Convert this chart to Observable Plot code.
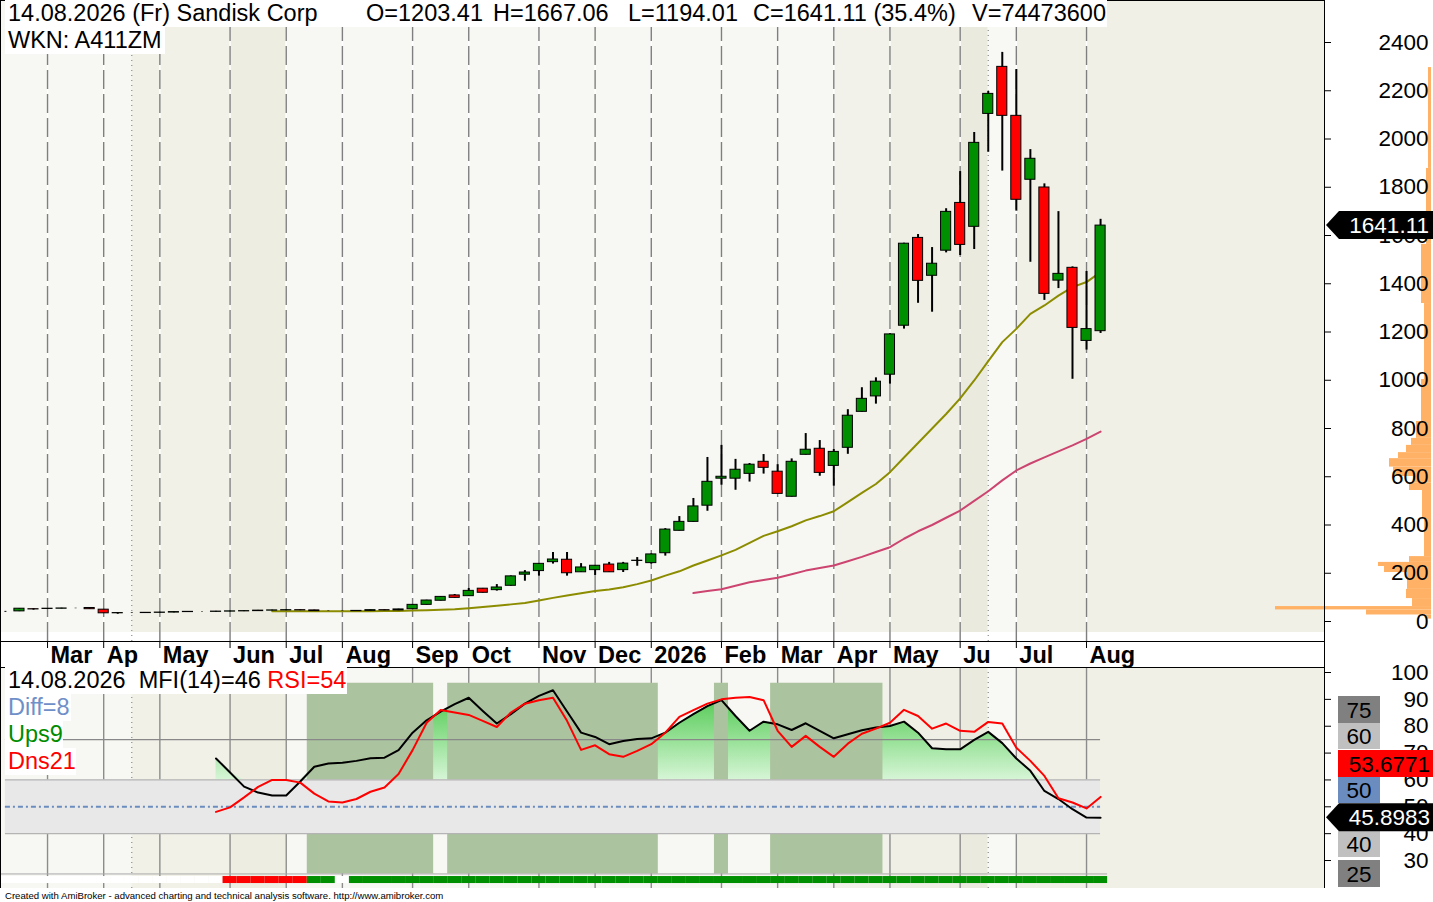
<!DOCTYPE html>
<html><head><meta charset="utf-8"><title>Sandisk Corp</title>
<script src="https://cdn.jsdelivr.net/npm/d3@7"></script>
<script src="https://cdn.jsdelivr.net/npm/@observablehq/plot@0.6"></script>
<style>
html,body{margin:0;padding:0;background:#fff;}
#wrap{position:relative;width:1433px;height:902px;overflow:hidden;font-family:"Liberation Sans",Arial,sans-serif;color:#000;}
#wrap svg{position:absolute;left:0;}
.box{position:absolute;background:#fff;font-size:23.5px;line-height:27px;height:27px;white-space:pre;}
.box span.p{position:absolute;top:0;}
.foot{position:absolute;left:5px;top:890px;font-size:9.6px;line-height:11px;white-space:pre;}
</style></head><body><div id="wrap"></div>
<script>
// ---------- DATA (weekly bars, 14.02.2025 ... 14.08.2026) ----------
const opens  = [40,42,51,52,53,54,56,49,34,35,35,36,37,39,40,40,41,42,43,45,46,47,46,43,43,43,44,47,46,
  51,69,86,108,105,136,130,148,194,209,246,256,204,213,236,213,251,242,283,376,413,480,592,592,612,662,621,517,691,716,645,720,869,933,1023,1226,1590,1433,1537,1735,1636,2104,2299,2096,1831,1799,1413,1466,1163,1203.41];
const highs  = [42,54,54,54,55,55,57,50,37,36,37,38,40,41,41,42,43,44,46,47,48,48,47,44,44,45,48,48,51,
  70,88,103,112,137,137,153,189,211,240,286,286,240,232,245,245,265,280,385,435,510,680,730,672,655,692,650,674,779,750,713,878,969,1010,1193,1568,1604,1550,1711,1865,2027,2197,2359,2288,1956,1814,1699,1470,1451,1667.06];
const lows   = [38,41,47,51,52,53,50,33,30,33,34,35,36,38,39,39,40,41,42,44,45,45,43,42,42,42,43,45,45,
  50,68,85,97,104,118,126,147,167,188,238,188,203,191,203,203,229,238,271,375,412,457,565,544,578,611,528,516,690,602,561,693,868,901,984,1212,1319,1282,1528,1517,1542,1945,1867,1701,1489,1331,1380,1004,1125,1194.01];
const closes = [40,53,50,53,54,54,51,34,35,35,36,37,39,40,40,41,42,43,45,46,47,46,43,43,43,44,47,46,50,
  69,87,102,98,127,119,141,187,203,239,257,200,224,231,204,240,252,278,381,413,477,579,600,629,650,637,529,662,712,616,703,853,923,994,1190,1566,1412,1483,1698,1561,1984,2187,2096,1748,1918,1358,1441,1217,1212,1641.11];
// moving averages (null = not yet defined)
const maFast = [null,null,null,null,null,null,null,null,null,null,null,null,null,null,null,null,null,null,null,
  43,43,43,43,43,43,43,43,43.5,44,45.6,47,49,51,55,60,65,71,77,87,98,108,117,126,133,142,155,170,190,208,232,253,274,297,326,355,374,395,419,437,457,495,533,570,619,680,740,800,860,925,999,1079,1158,1213,1275,1310,1351,1386,1407,1448];
const maSlow = [null,null,null,null,null,null,null,null,null,null,null,null,null,null,null,null,null,null,null,null,null,null,null,null,null,null,null,null,null,null,null,null,null,null,null,null,null,null,null,null,null,null,null,null,null,null,null,null,null,
  118,126,134,148,163,172,181,196,211,222,232,250,268,288,308,343,374,400,430,460,500,540,585,626,655,680,705,730,757,787];
// indicator pane
const mfi = [null,null,null,null,null,null,null,null,null,null,null,null,null,null,null,
  68.0,62.8,57.5,55.3,54.2,54.2,59.4,64.9,66.1,66.4,67.1,68.1,68.3,71.1,77.6,82.2,85.4,88.2,90.6,85.7,81.0,84.5,88.4,91.3,93.4,85.5,77.6,76.0,73.3,74.5,75.2,75.5,77.6,81.3,84.5,87.5,89.7,83.8,78.3,81.7,80.7,78.6,81.1,78.3,75.5,77.0,78.5,79.5,80.1,81.7,77.6,71.8,71.4,71.4,74.9,77.9,73.7,68.0,63.4,55.9,52.9,49.1,46.0,45.8983];
const rsi = [null,null,null,null,null,null,null,null,null,null,null,null,null,null,null,
  48.1,49.8,53.5,57.4,60.0,60.0,59.0,54.9,52.0,51.6,52.9,55.6,57.2,62.2,71.1,81.3,86.0,85.1,84.2,82.0,79.7,85.1,88.4,89.7,90.6,82.0,71.2,72.9,69.6,68.6,70.8,73.3,77.6,83.5,86.0,88.4,90.0,90.6,90.9,89.7,78.3,72.3,76.4,72.3,68.6,73.5,77.2,79.1,81.3,86.1,83.8,79.1,81.0,78.3,77.9,81.6,81.0,72.0,67.1,61.5,53.2,51.6,49.4,53.6771];
const upsRuns = [[22,30],[32,46],[51,51],[55,62]];          // shaded "Ups" stretches (bar index)
const trendSignal = "0000000000000000------++0++++++++++++++++++++++++++++++++++++++++++++++++++++++"; // per bar: 0 none, - down, + up
// volume-at-price profile: price bin low, high, relative volume
const vapLow  = [10,27,48,62,95,133,203,228,245,269,427,543,575,601,640,675,700,730,759,829,1003,1318,1563,1878];
const vapHigh = [27,48,62,95,133,203,228,245,269,427,543,575,601,640,675,700,730,759,829,1003,1318,1563,1878,2296];
const vapVol  = [5,65,156,19,25,24,47,53,22,7,9,22,18,38,42,33,25,20,15,10,7,10,5,3];
// axes
const monthLabels = ["Mar","Ap","May","Jun","Jul","Aug","Sep","Oct","Nov","Dec","2026","Feb","Mar","Apr","May","Ju","Jul","Aug"];
const monthBar    = [3,7,11,16,20,24,29,33,38,42,46,51,55,59,63,68,72,77];
const markerBar   = [9,70];
const shadeFrom   = [-1,9,16,20,59,63,68,70,72];
const shadeTo     = [9,16,20,59,63,68,70,72,200];
const priceTicks  = [0,200,400,600,800,1000,1200,1400,1600,1800,2000,2200,2400];
const indTicks    = [30,40,50,60,70,80,90,100];
const levelTags   = ["75","60","50","40","25"];
const lastClose = 1641.11, lastMfi = 45.8983, lastRsi = 53.6771;

// ---------- STYLE / LAYOUT ----------
const FONT = '"Liberation Sans", Arial, sans-serif';
const W = 1433, PW = 1325;
const xMin = -0.35, xMax = 94.02;
const pxPerBar = PW / (xMax - xMin);
const priceAt = px => (621 - px) / 0.24125;           // price pane pixel -> price
const indAt = px => 100 - (px - 672) / 2.686;          // indicator pixel -> value
const GREEN = "#008f00", RED = "#ff0000";
const shadeColors = ["#f7f7f3","#f2f1e8","#edede1","#f7f7f3","#f3f2ea","#f0efe5","#ebeadf","#f8f8f5","#f1f0e6"];
const shades = shadeFrom.map((a,k) => ({a: Math.max(a, xMin), b: Math.min(shadeTo[k], xMax), color: shadeColors[k]}));

const rows = opens.map((o,i) => ({i, o, h: highs[i], l: lows[i], c: closes[i], maF: maFast[i], maS: maSlow[i], mfi: mfi[i], rsi: rsi[i], sig: trendSignal[i]}));
const lastBar = rows.length - 1;
const months = monthLabels.map((label,k) => ({label, bar: monthBar[k]}));
const vap = vapVol.map((v,k) => ({lo: vapLow[k], hi: vapHigh[k], v}));
const vapRight = (1431 / pxPerBar) + xMin;

// ---------- PRICE PANE ----------
const price = Plot.plot({
  width: W, height: 667, marginLeft: 0, marginRight: W - PW, marginTop: 0, marginBottom: 26,
  x: {type: "linear", domain: [xMin, xMax], axis: null},
  y: {domain: [priceAt(641), priceAt(0)], axis: null},
  color: {type: "identity"},
  style: {background: "transparent", fontFamily: FONT, overflow: "visible"},
  marks: [
    Plot.rect(shades, {x1: "a", x2: "b", y1: priceAt(632), y2: priceAt(0), fill: "color"}),
    Plot.rect([0], {x1: xMin, x2: lastBar + 0.5, y1: priceAt(641), y2: priceAt(632), fill: "#ffffff"}),
    Plot.ruleX(monthBar, {x: d => d, y1: priceAt(641), y2: priceAt(0), stroke: "#ffffff", strokeWidth: 1.4}),
    Plot.ruleX(monthBar, {x: d => d, y1: priceAt(641), y2: priceAt(0), stroke: "#7f7f7f", strokeWidth: 1.4, strokeDasharray: "19,5"}),
    Plot.ruleX(markerBar, {x: d => d, y1: priceAt(641), y2: priceAt(0), stroke: "#8a8a8a", strokeWidth: 1.2, strokeDasharray: "1,4"}),
    Plot.ruleX(monthBar, {x: d => d, y1: priceAt(641), y2: priceAt(648), stroke: "#000"}),
    Plot.rect(vap, {x1: vapRight, x2: d => vapRight - d.v / pxPerBar, y1: "lo", y2: "hi", fill: "#ffb266"}),
    Plot.line(rows, {x: "i", y: "maS", stroke: "#cc4470", strokeWidth: 2}),
    Plot.line(rows, {x: "i", y: "maF", stroke: "#8c8c00", strokeWidth: 2}),
    Plot.ruleX(rows, {x: "i", y1: "l", y2: "h", stroke: "#000", strokeWidth: 2}),
    Plot.rect(rows, {x1: d => d.i - 0.36, x2: d => d.i + 0.36, y1: "o", y2: "c", fill: d => d.c >= d.o ? GREEN : RED, stroke: "#000", strokeWidth: 1}),
    Plot.text(months, {x: "bar", text: "label", frameAnchor: "bottom", lineAnchor: "middle", dy: 14, dx: 3, textAnchor: "start", fontWeight: "bold", fontSize: 23.5, fill: "#000"}),
    Plot.ruleY(priceTicks, {y: d => d, x1: xMax, x2: xMax + 6 / pxPerBar, stroke: "#000"}),
    Plot.text(priceTicks, {y: d => d, text: d => String(d), frameAnchor: "right", lineAnchor: "middle", dx: 103, textAnchor: "end", fontSize: 22.5, fill: "#000"})
  ]
});

// ---------- INDICATOR PANE ----------
const iy0 = indAt(888), iy1 = indAt(667);
const ind = Plot.plot({
  width: W, height: 221, marginLeft: 0, marginRight: W - PW, marginTop: 0, marginBottom: 0,
  x: {type: "linear", domain: [xMin, xMax], axis: null},
  y: {domain: [iy0, iy1], axis: null},
  color: {type: "identity"},
  style: {background: "transparent", fontFamily: FONT, overflow: "visible"},
  marks: [
    Plot.rect(shades, {x1: "a", x2: "b", y1: iy0, y2: iy1, fill: "color"}),
    Plot.ruleX(monthBar, {x: d => d, y1: iy0, y2: iy1, stroke: "#8c8c8c", strokeWidth: 1.4}),
    Plot.ruleX(markerBar, {x: d => d, y1: iy0, y2: iy1, stroke: "#8a8a8a", strokeWidth: 1.2, strokeDasharray: "1,4"}),
    Plot.areaY(rows.filter(d => d.mfi != null), {x: "i", y1: 60, y2: d => Math.max(d.mfi, 60), fill: "url(#mfiGrad)"}),
    Plot.rect(upsRuns, {x1: d => d[0] - 0.5, x2: d => d[1] + 0.5, y1: 25, y2: 96, fill: "#abc39e"}),
    Plot.rect([0], {x1: 0, x2: lastBar, y1: 40, y2: 60, fill: "#e8e8e8"}),
    Plot.ruleY([40, 60], {y: d => d, x1: 0, x2: lastBar, stroke: "#b4b4b4", strokeWidth: 1.2}),
    Plot.ruleY([75], {y: d => d, x1: 0, x2: lastBar, stroke: "#888", strokeWidth: 1.2}),
    Plot.ruleY([25], {y: d => d, x1: xMin, x2: lastBar + 0.5, stroke: "#a8a8a8", strokeWidth: 1}),
    Plot.ruleY([50], {y: d => d, x1: 0, x2: lastBar, stroke: "#6b8cbe", strokeWidth: 2, strokeDasharray: "5,3,2,3"}),
    Plot.rect(rows, {x1: d => d.i - 0.5, x2: d => d.i + 0.5, y1: 21.43, y2: 24.04, fill: d => d.sig === "+" ? GREEN : d.sig === "-" ? RED : "#ffffff"}),
    Plot.line(rows, {x: "i", y: "mfi", stroke: "#000", strokeWidth: 2}),
    Plot.line(rows, {x: "i", y: "rsi", stroke: RED, strokeWidth: 2}),
    Plot.ruleY(indTicks, {y: d => d, x1: xMax, x2: xMax + 6 / pxPerBar, stroke: "#000"}),
    Plot.text(indTicks, {y: d => d, text: d => String(d), frameAnchor: "right", lineAnchor: "middle", dx: 103, textAnchor: "end", fontSize: 22.5, fill: "#000"})
  ]
});
{
  const ys = ind.scale("y");
  const defs = `<defs><linearGradient id="mfiGrad" gradientUnits="userSpaceOnUse" x1="0" x2="0" y1="${ys.apply(92)}" y2="${ys.apply(60)}">
    <stop offset="0" stop-color="#4ec94e"/><stop offset="1" stop-color="#d6f5d6"/></linearGradient></defs>`;
  ind.insertAdjacentHTML("afterbegin", defs);
}

const wrap = document.getElementById("wrap");
price.style.top = "0px"; wrap.appendChild(price);
ind.style.top = "667px"; wrap.appendChild(ind);

// ---------- OVERLAY: frame lines, value tags ----------
const ov = d3.select(wrap).append("svg").attr("width", W).attr("height", 902)
  .style("position", "absolute").style("top", "0px").style("left", "0px").style("font-family", FONT);
[[0, 0.5, PW, 0.5], [0.5, 0, 0.5, 888], [PW - 0.5, 0, PW - 0.5, 888], [0, 641.5, PW, 641.5], [0, 667.5, PW, 667.5]]
  .forEach(([x1, y1, x2, y2]) => ov.append("line").attr("x1", x1).attr("y1", y1).attr("x2", x2).attr("y2", y2).attr("stroke", "#000").attr("stroke-width", 1));

function arrowTag(cy, txt, textRight) {
  ov.append("polygon").attr("points", [[1326, cy], [1339, cy - 14], [W, cy - 14], [W, cy + 14], [1339, cy + 14]].map(p => p.join(",")).join(" ")).attr("fill", "#000");
  ov.append("text").attr("x", textRight).attr("y", cy).attr("dy", "0.35em").attr("text-anchor", "end").attr("fill", "#fff").attr("font-size", 22.5).text(txt);
}
arrowTag(price.scale("y").apply(lastClose), lastClose.toFixed(2), 1429);

const tagBoxes = [
  {t: levelTags[0], y: 696, h: 27, w: 42, fill: "#808080"},
  {t: levelTags[1], y: 723, h: 26, w: 42, fill: "#c0c0c0"},
  {t: String(lastRsi), y: 750, h: 27, w: 95, fill: "#ff0000", right: true},
  {t: levelTags[2], y: 777, h: 26, w: 42, fill: "#6b8cbe"},
  {t: levelTags[3], y: 831, h: 26, w: 42, fill: "#c0c0c0"},
  {t: levelTags[4], y: 860, h: 27, w: 42, fill: "#808080"}
];
tagBoxes.forEach(b => {
  ov.append("rect").attr("x", 1338).attr("y", b.y).attr("width", b.w).attr("height", b.h).attr("fill", b.fill);
  ov.append("text").attr("x", b.right ? 1430 : 1338 + b.w / 2).attr("y", b.y + b.h / 2).attr("dy", "0.36em")
    .attr("text-anchor", b.right ? "end" : "middle").attr("font-size", 22.5).attr("fill", "#000").text(b.t);
});
arrowTag(667 + ind.scale("y").apply(lastMfi), String(lastMfi), 1430);

// ---------- TEXT LABELS ----------
function box(left, top, width, html) {
  const d = document.createElement("div");
  d.className = "box"; d.style.left = left + "px"; d.style.top = top + "px"; d.style.width = width + "px";
  d.innerHTML = html; wrap.appendChild(d); return d;
}
box(5, 0, 1102, [
  [3, "14.08.2026 (Fr) Sandisk Corp"], [361, "O=1203.41"], [488, "H=1667.06"], [623, "L=1194.01"], [748, "C=1641.11 (35.4%)"], [967, "V=74473600"]
].map(([x, t]) => `<span class="p" style="left:${x}px">${t}</span>`).join(""));
box(5, 27, 160, `<span class="p" style="left:3px">WKN: A411ZM</span>`);
box(5, 667, 342, `<span class="p" style="left:3px">14.08.2026  MFI(14)=46 <span style="color:#ff0000">RSI=54</span></span>`);
box(5, 694, 66, `<span class="p" style="left:3px;color:#6e8fc8">Diff=8</span>`);
box(5, 721, 58, `<span class="p" style="left:3px;color:#008c00">Ups9</span>`);
box(5, 748, 71, `<span class="p" style="left:3px;color:#ff0000">Dns21</span>`);
const f = document.createElement("div"); f.className = "foot";
f.textContent = "Created with AmiBroker - advanced charting and technical analysis software. http://www.amibroker.com";
wrap.appendChild(f);
</script></body></html>
